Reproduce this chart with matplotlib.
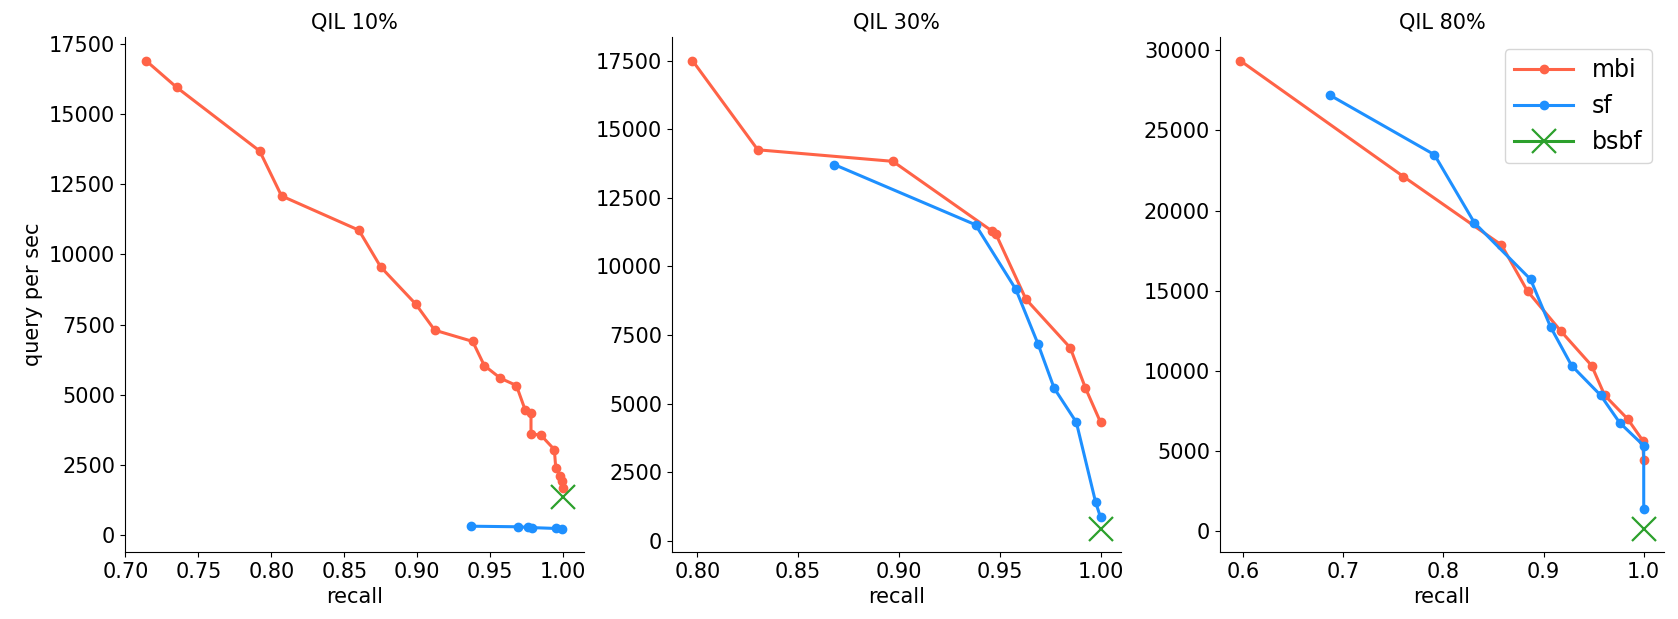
import matplotlib
matplotlib.use("Agg")
import matplotlib.pyplot as plt

# QIL 10%
mbi_10_recall = [0.714, 0.735, 0.792, 0.807, 0.860, 0.875, 0.899, 0.912, 0.938, 0.946,
                 0.957, 0.968, 0.974, 0.978, 0.978, 0.985, 0.994, 0.995, 0.998, 0.999, 1.0]
mbi_10_qps = [16900, 15950, 13680, 12080, 10860, 9550, 8230, 7300, 6900, 6040,
              5590, 5330, 4460, 4350, 3620, 3550, 3050, 2380, 2110, 1930, 1690]
sf_10_recall = [0.937, 0.969, 0.976, 0.979, 0.995, 0.999]
sf_10_qps = [320, 300, 280, 270, 240, 230]
bsbf_10_recall = [1.0]
bsbf_10_qps = [1350]

# QIL 30%
mbi_30_recall = [0.7976, 0.830, 0.897, 0.946, 0.948, 0.963, 0.985, 0.9925, 1.0]
mbi_30_qps = [17500, 14250, 13830, 11300, 11200, 8810, 7040, 5580, 4330]
sf_30_recall = [0.868, 0.938, 0.958, 0.969, 0.977, 0.988, 0.9976, 1.0]
sf_30_qps = [13710, 11520, 9170, 7180, 5570, 4330, 1410, 870]
bsbf_30_recall = [1.0]
bsbf_30_qps = [450]

# QIL 80%
mbi_80_recall = [0.597, 0.760, 0.858, 0.884, 0.917, 0.948, 0.961, 0.984, 0.999, 1.0]
mbi_80_qps = [29360, 22130, 17860, 14980, 12510, 10340, 8490, 7010, 5670, 4440]
sf_80_recall = [0.687, 0.791, 0.831, 0.887, 0.907, 0.928, 0.957, 0.976, 1.0, 1.0]
sf_80_qps = [27190, 23490, 19240, 15720, 12750, 10340, 8490, 6780, 5350, 1410]
bsbf_80_recall = [1.0]
bsbf_80_qps = [170]

panels = [
    ("QIL 10%", mbi_10_recall, mbi_10_qps, sf_10_recall, sf_10_qps, bsbf_10_recall, bsbf_10_qps),
    ("QIL 30%", mbi_30_recall, mbi_30_qps, sf_30_recall, sf_30_qps, bsbf_30_recall, bsbf_30_qps),
    ("QIL 80%", mbi_80_recall, mbi_80_qps, sf_80_recall, sf_80_qps, bsbf_80_recall, bsbf_80_qps),
]

plt.rcParams['font.family'] = ['DejaVu Sans']
plt.rcParams['font.size'] = 15

fig = plt.figure(figsize=(16.78, 6.19), dpi=100)
boxes = [
    [0.0745, 0.108, 0.2735, 0.832],
    [0.4005, 0.108, 0.2675, 0.832],
    [0.727, 0.108, 0.2646, 0.832],
]

for i, (title, mx, my, sx, sy, bx, by) in enumerate(panels):
    ax = fig.add_axes(boxes[i])
    ax.plot(mx, my, color="tomato", marker="o", markersize=6, linewidth=2.2, label="mbi")
    ax.plot(sx, sy, color="dodgerblue", marker="o", markersize=6, linewidth=2.2, label="sf")
    ax.plot(bx, by, color="#2ca02c", marker="x", markersize=17, markeredgewidth=1.6,
            linewidth=2.2, label="bsbf")
    ax.set_title(title, fontsize=15)
    ax.set_xlabel("recall", fontsize=15)
    if i == 0:
        ax.set_ylabel("query per sec", fontsize=15)
    ax.spines["top"].set_visible(False)
    ax.spines["right"].set_visible(False)
    ax.tick_params(labelsize=15)
    if i == 2:
        ax.legend(loc="upper right", fontsize=17, handlelength=2.5)

fig.savefig("out.png", dpi=100)
